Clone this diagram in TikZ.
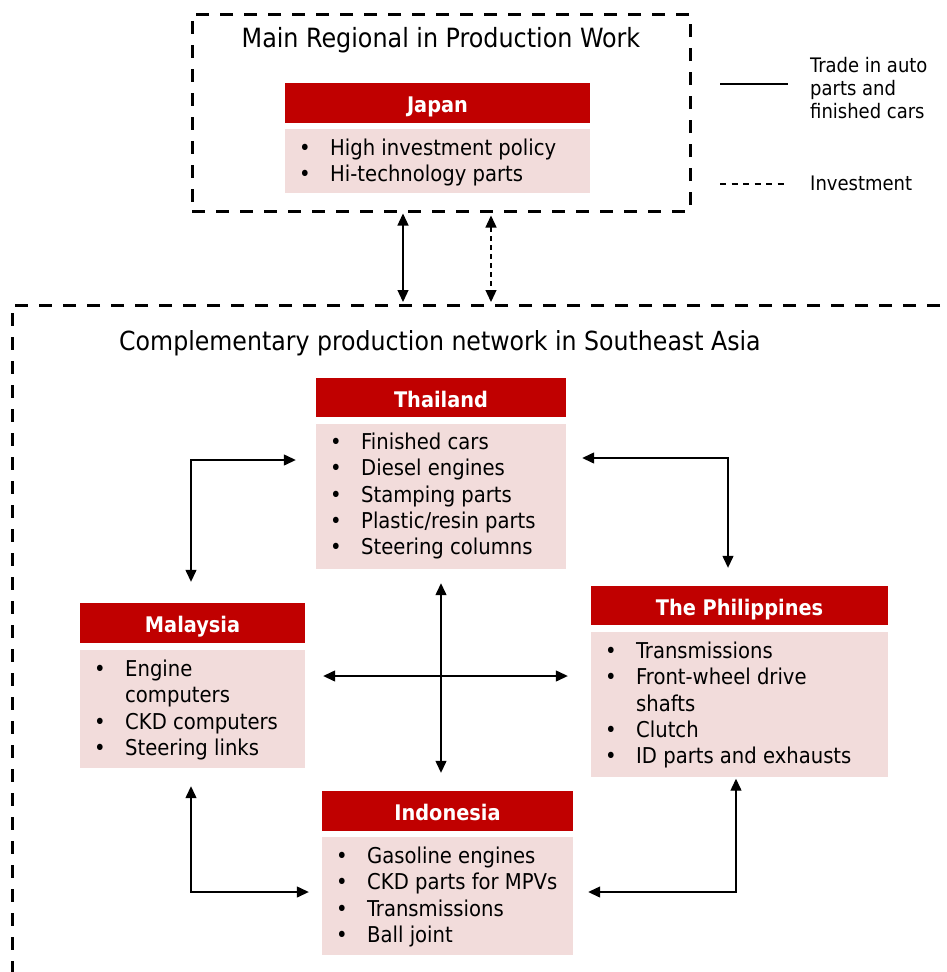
\documentclass[tikz,border=0pt]{standalone}
\usepackage{fontspec}
\setmainfont{DejaVu Sans Condensed}
\usetikzlibrary{arrows.meta}
\definecolor{hdr}{HTML}{C00000}
\definecolor{bdy}{HTML}{F2DCDB}
\newcommand{\bt}{\makebox[31pt][l]{•}}
\newcommand{\bc}{\hspace*{31pt}}
\begin{document}
\begin{tikzpicture}[x=1pt,y=-1pt,
  hdrbox/.style={fill=hdr, inner sep=0pt, text=white, text height=19.4pt, text depth=0pt, font=\bfseries\fontsize{21.5}{25}\selectfont},
  bodybox/.style={fill=bdy, inner sep=0pt},
  listtext/.style={anchor=north west, inner sep=0pt, align=left, font=\fontsize{21.8}{26.4}\selectfont},
  regionbox/.style={draw, line width=3pt, dash pattern=on 13pt off 11pt, inner sep=0pt},
  tw/.style={line width=1.3pt, {Triangle[length=12pt,width=11pt]}-{Triangle[length=12pt,width=11pt]}},
  twd/.style={tw, dash pattern=on 5pt off 4pt},
  legtext/.style={anchor=base west, inner sep=0pt, align=left, font=\fontsize{20}{23}\selectfont}
]
\useasboundingbox (0,0) rectangle (947,972);

% region boxes
\node[regionbox, minimum width=498pt, minimum height=197pt] (mainbox) at (441,112.5) {};
\node[regionbox, minimum width=1000pt, minimum height=800pt] (seabox) at (512,705) {};

\node[anchor=base, inner sep=0pt, font=\fontsize{26.5}{30}\selectfont] (maintitle) at (441,47) {Main Regional in Production Work};
\node[anchor=base, inner sep=0pt, font=\fontsize{26.3}{30}\selectfont] (seatitle) at (440,350) {Complementary production network in Southeast Asia};

% Japan
\node[hdrbox, minimum width=305pt, minimum height=40pt] (jph) at (437.5,103) {Japan};
\node[bodybox, minimum width=305pt, minimum height=64pt] (jpb) at (437.5,161) {};
\node[listtext] (jpt) at (299,136) {\rule{0pt}{19pt}\bt High investment policy\\ \bt Hi-technology parts};

% Thailand
\node[hdrbox, minimum width=250pt, minimum height=39pt] (thh) at (441,397.5) {Thailand};
\node[bodybox, minimum width=250pt, minimum height=145pt] (thb) at (441,496.5) {};
\node[listtext] (tht) at (330,430) {\rule{0pt}{19pt}\bt Finished cars\\ \bt Diesel engines\\ \bt Stamping parts\\ \bt Plastic/resin parts\\ \bt Steering columns};

% Philippines
\node[hdrbox, minimum width=297pt, minimum height=39pt] (phh) at (739.5,605.5) {The Philippines};
\node[bodybox, minimum width=297pt, minimum height=145pt] (phb) at (739.5,704.5) {};
\node[listtext] (pht) at (605,639) {\rule{0pt}{19pt}\bt Transmissions\\ \bt Front-wheel drive\\ \bc shafts\\ \bt Clutch\\ \bt ID parts and exhausts};

% Malaysia
\node[hdrbox, minimum width=225pt, minimum height=40pt] (mah) at (192.5,623) {Malaysia};
\node[bodybox, minimum width=225pt, minimum height=118pt] (mab) at (192.5,709) {};
\node[listtext] (mat) at (94,657) {\rule{0pt}{19pt}\bt Engine\\ \bc computers\\ \bt CKD computers\\ \bt Steering links};

% Indonesia
\node[hdrbox, minimum width=251pt, minimum height=40pt] (inh) at (447.5,811) {Indonesia};
\node[bodybox, minimum width=251pt, minimum height=118pt] (inb) at (447.5,896) {};
\node[listtext] (intt) at (336,844) {\rule{0pt}{19pt}\bt Gasoline engines\\ \bt CKD parts for MPVs\\ \bt Transmissions\\ \bt Ball joint};

% Japan <-> Southeast Asia
\draw[tw, shorten <=1pt, shorten >=1.5pt] (mainbox.south -| 403,0) -- (seabox.north -| 403,0);
\draw[twd, shorten <=3pt, shorten >=1.5pt] (mainbox.south -| 491,0) -- (seabox.north -| 491,0);

% network connectors
\draw[tw, shorten <=21pt, shorten >=20pt] (mah.north -| 191,0) |- (thb.west |- 0,460);
\draw[tw, shorten <=16pt, shorten >=18pt] (thb.east |- 0,458) -| (phh.north -| 728,0);
\draw[tw, shorten <=14pt, shorten >=18pt] (thb.south -| 441,0) -- (inh.north -| 441,0);
\draw[tw, shorten <=18pt, shorten >=23pt] (mab.east |- 0,676) -- (phb.west |- 0,676);
\draw[tw, shorten <=18pt, shorten >=13pt] (mab.south -| 191,0) |- (inb.west |- 0,892);
\draw[tw, shorten <=15pt, shorten >=1.5pt] (inb.east |- 0,892) -| (phb.south -| 736,0);

% legend
\coordinate (l1a) at (720,84);
\coordinate (l1b) at (788,84);
\coordinate (l2a) at (720,184);
\coordinate (l2b) at (788,184);
\draw[line width=1.3pt] (l1a) -- (l1b);
\draw[line width=1.1pt, dash pattern=on 6pt off 5.5pt] (l2a) -- (l2b);
\node[legtext] (leg1) at (810,118) {Trade in auto\\parts and\\finished cars};
\node[legtext] (leg2) at (810,190) {Investment};
\end{tikzpicture}
\end{document}
